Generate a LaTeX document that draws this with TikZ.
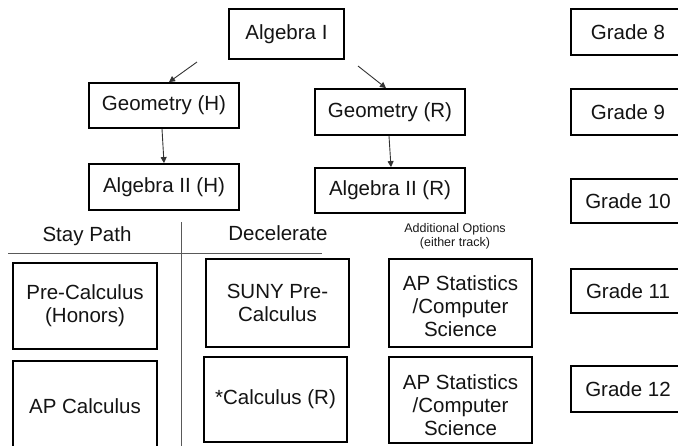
\documentclass[tikz,border=0pt]{standalone}
\usepackage{fontspec}
\setmainfont{Liberation Sans}
\usetikzlibrary{arrows.meta,calc}
\tikzset{
  box/.style={draw=black, line width=1.8pt, inner sep=0pt, align=center,
    font=\fontsize{20.5}{23}\selectfont, text=black!92},
  txt/.style={inner sep=0pt, align=center, font=\fontsize{20.5}{23}\selectfont, text=black!92},
  small/.style={inner sep=0pt, align=center, font=\fontsize{12.5}{14}\selectfont, text=black!90},
  conn/.style={draw=black!80, line width=0.9pt, -{Triangle[length=6pt,width=6pt]}},
  rule/.style={draw=black!65, line width=0.9pt}
}
\begin{document}
\begin{tikzpicture}[x=1pt,y=-1pt]
\useasboundingbox (0,0) rectangle (678,445);
\clip (0,0) rectangle (678,445);
\fill[white] (0,0) rectangle (678,445);
% course nodes
\node[box, minimum width=115pt, minimum height=50pt] (alg1) at (286.5,34) {Algebra I};
\node[box, minimum width=150pt, minimum height=45pt] (geoh) at (164,105.5) {Geometry (H)};
\node[box, minimum width=150pt, minimum height=46pt] (alg2h) at (164,187) {Algebra II (H)};
\node[box, minimum width=150pt, minimum height=46pt] (geor) at (390,112) {Geometry (R)};
\node[box, minimum width=150pt, minimum height=45pt] (alg2r) at (390,190.5) {Algebra II (R)};
% grade nodes
\node[box, minimum width=114pt, minimum height=46pt] (g8) at (628,32) {Grade 8};
\node[box, minimum width=114pt, minimum height=46pt] (g9) at (628,112) {Grade 9};
\node[box, minimum width=114pt, minimum height=44pt] (g10) at (628,201) {Grade 10};
\node[box, minimum width=114pt, minimum height=44pt] (g11) at (628,291) {Grade 11};
\node[box, minimum width=114pt, minimum height=46pt] (g12) at (628,389) {Grade 12};
% headings
\node[txt] (stay) at (87,236) {Stay Path};
\node[txt] (dec) at (278,233) {Decelerate};
\node[small] (addl) at (455,236) {Additional Options\\(either track)};
\coordinate (hl1) at (8,253);
\coordinate (hl2) at (322,253);
\coordinate (vl1) at (181,222);
\coordinate (vl2) at (181,450);
\draw[rule] (hl1) -- (hl2);
\draw[rule] (vl1) -- (vl2);
% lower boxes
\node[box, minimum width=144pt, minimum height=86pt] (prec) at (85,306) {Pre-Calculus\\(Honors)};
\node[box, minimum width=144pt, minimum height=90pt] (apc) at (85,406) {AP Calculus};
\node[box, minimum width=143pt, minimum height=88pt] (suny) at (277.5,303) {SUNY Pre-\\Calculus};
\node[box, minimum width=143pt, minimum height=85pt] (calr) at (275.5,399.5) {*Calculus (R)};
\node[box, minimum width=143pt, minimum height=88pt] (aps1) at (460.5,303) {};
\node[txt] (aps1t) at (460.5,306) {AP Statistics\\/Computer\\Science};
\node[box, minimum width=143pt, minimum height=86pt] (aps2) at (460.5,400) {};
\node[txt] (aps2t) at (460.5,405) {AP Statistics\\/Computer\\Science};
% connectors
\coordinate (s1) at (197,62);
\coordinate (s2) at (358,66);
\draw[conn] (s1) -- ([xshift=5pt]geoh.north);
\draw[conn] (s2) -- ([xshift=-4pt]geor.north);
\draw[conn] ([xshift=-2pt]geoh.south) -- (alg2h.north);
\draw[conn] ([xshift=-1pt]geor.south) -- ([xshift=1pt]alg2r.north);
\end{tikzpicture}
\end{document}
